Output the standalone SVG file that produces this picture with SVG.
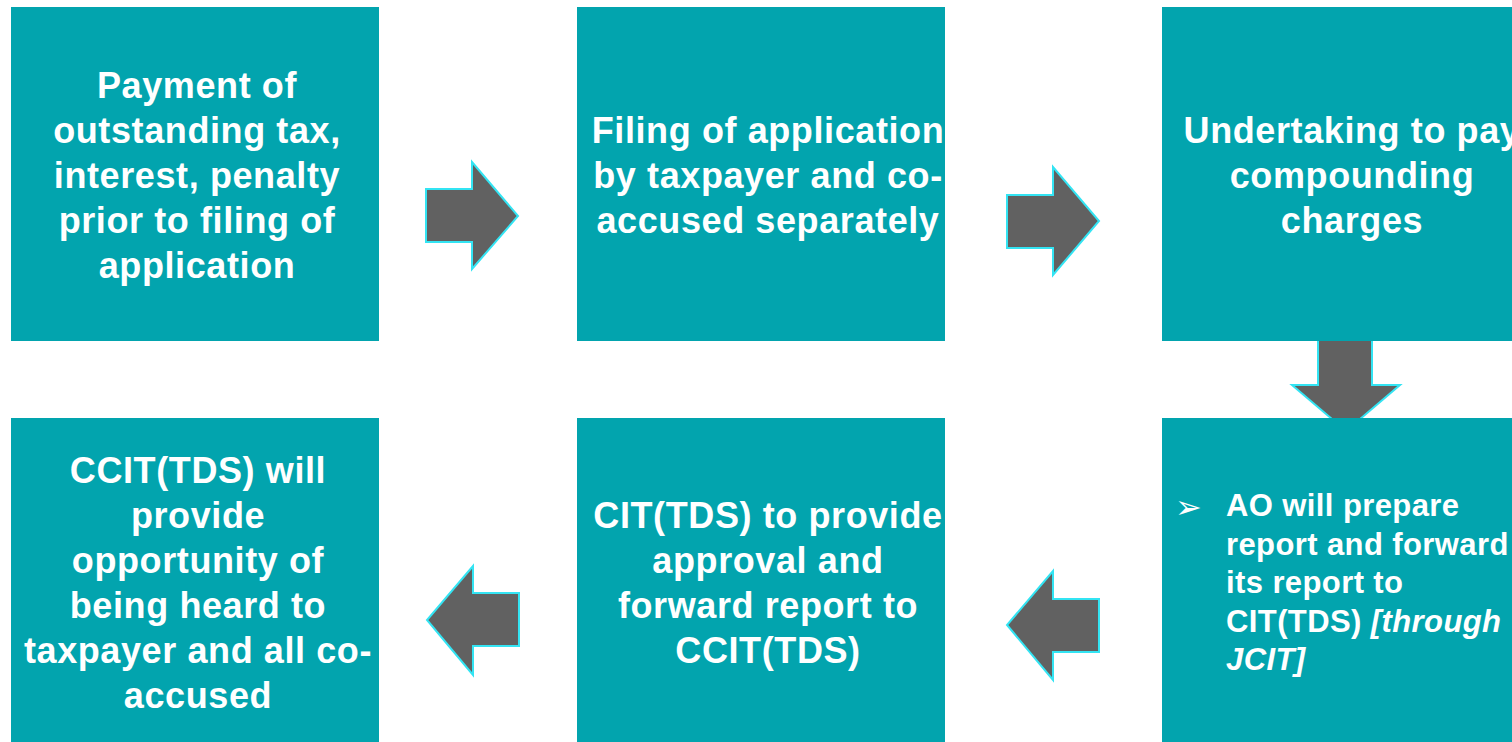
<svg xmlns="http://www.w3.org/2000/svg" width="1512" height="742" viewBox="0 0 1512 742">
  <style>
    .box { fill: #02A4AE; }
    .arrow { fill: #616161; stroke: #33E4F3; stroke-width: 2; stroke-linejoin: miter; }
    .t { font-family: "Liberation Sans", Arial, sans-serif; font-weight: bold; font-size: 36px; letter-spacing: 0.6px; fill: #FFFFFF; text-anchor: middle; }
    .tl { font-family: "Liberation Sans", Arial, sans-serif; font-weight: bold; font-size: 31px; letter-spacing: 0.4px; fill: #FFFFFF; }
    .bullet { font-family: "DejaVu Sans", sans-serif; font-size: 32px; fill: #FFFFFF; }
  </style>
  <rect width="1512" height="742" fill="#FFFFFF"/>
  <g id="connectors">
    <polygon class="arrow" points="426,189 472,189 472,162 518,216 472,269 472,242 426,242"/>
    <polygon class="arrow" points="1007,195 1053,195 1053,167 1099,221 1053,275 1053,248 1007,248"/>
    <polygon class="arrow" points="1318,340 1372,340 1372,385 1400,385 1346,431 1292,385 1318,385"/>
    <polygon class="arrow" points="1099,599 1053,599 1053,571 1007,625 1053,680 1053,652 1099,652"/>
    <polygon class="arrow" points="519,593 473,593 473,566 427,620 473,675 473,646 519,646"/>
  </g>
  <g id="node1">
    <rect class="box" x="11" y="7" width="368" height="334"/>
    <text class="t" x="197" y="98">Payment of</text>
    <text class="t" x="197" y="143">outstanding tax,</text>
    <text class="t" x="197" y="188">interest, penalty</text>
    <text class="t" x="197" y="233">prior to filing of</text>
    <text class="t" x="197" y="278">application</text>
  </g>
  <g id="node2">
    <rect class="box" x="577" y="7" width="368" height="334"/>
    <text class="t" x="768" y="143">Filing of application</text>
    <text class="t" x="768" y="188">by taxpayer and co-</text>
    <text class="t" x="768" y="233">accused separately</text>
  </g>
  <g id="node3">
    <rect class="box" x="1162" y="7" width="380" height="334"/>
    <text class="t" x="1352" y="143">Undertaking to pay</text>
    <text class="t" x="1352" y="188">compounding</text>
    <text class="t" x="1352" y="233">charges</text>
  </g>
  <g id="node4">
    <rect class="box" x="1162" y="418" width="380" height="334"/>
    <text class="bullet" x="1175" y="518">➢</text>
    <text class="tl" x="1226" y="516">AO will prepare</text>
    <text class="tl" x="1226" y="555">report and forward</text>
    <text class="tl" x="1226" y="593">its report to</text>
    <text class="tl" x="1226" y="632">CIT(TDS) <tspan font-style="italic">[through</tspan></text>
    <text class="tl" x="1226" y="670" font-style="italic">JCIT]</text>
  </g>
  <g id="node5">
    <rect class="box" x="577" y="418" width="368" height="334"/>
    <text class="t" x="768" y="528">CIT(TDS) to provide</text>
    <text class="t" x="768" y="573">approval and</text>
    <text class="t" x="768" y="618">forward report to</text>
    <text class="t" x="768" y="663">CCIT(TDS)</text>
  </g>
  <g id="node6">
    <rect class="box" x="11" y="418" width="368" height="334"/>
    <text class="t" x="198" y="483">CCIT(TDS) will</text>
    <text class="t" x="198" y="528">provide</text>
    <text class="t" x="198" y="573">opportunity of</text>
    <text class="t" x="198" y="618">being heard to</text>
    <text class="t" x="198" y="663">taxpayer and all co-</text>
    <text class="t" x="198" y="708">accused</text>
  </g>
</svg>
